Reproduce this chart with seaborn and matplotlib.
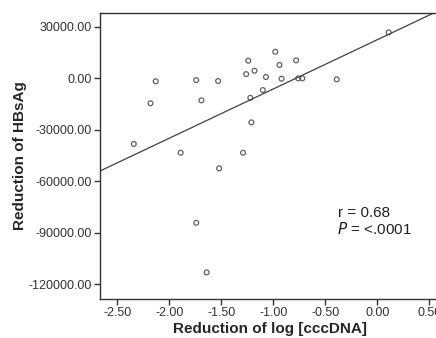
import matplotlib
matplotlib.use("Agg")
import matplotlib.pyplot as plt
import pandas as pd
import seaborn as sns

# Values
ccc_reduction = [-2.34, -2.18, -2.13, -1.89, -1.74, -1.74, -1.69, -1.64, -1.53, -1.52,
                 -1.29, -1.26, -1.24, -1.22, -1.21, -1.18, -1.10, -1.07, -0.98, -0.94,
                 -0.92, -0.78, -0.76, -0.72, -0.39, 0.11]
hbsag_reduction = [-38400, -14700, -1900, -43500, -1200, -84300, -13000, -113200, -1750, -52600,
                   -43500, 2300, 10100, -11500, -25800, 4250, -7000, 600, 15300, 7600,
                   -400, 10300, -200, -200, -750, 26600]
y_ticks = [30000, 0, -30000, -60000, -90000, -120000]
x_ticks = [-2.5, -2.0, -1.5, -1.0, -0.5, 0.0, 0.5]

df = pd.DataFrame({"ccc": ccc_reduction, "hbsag": hbsag_reduction})

sns.set_theme(style="ticks")
plt.rcParams["font.family"] = ["Liberation Sans", "DejaVu Sans"]

fig = plt.figure(figsize=(4.36, 3.38), dpi=100)
ax = fig.add_axes([0.2294, 0.1154, 0.779, 0.846])

# set the window first so the fitted line spans the full axis width
ax.set_xlim(-2.665, 0.6)
ax.set_ylim(-128700, 37860)

sns.regplot(
    data=df, x="ccc", y="hbsag", ax=ax, ci=None, truncate=False,
    scatter_kws={"s": 12, "facecolors": "none", "edgecolors": "#3a3a3a", "linewidths": 0.9},
    line_kws={"color": "#404040", "linewidth": 0.9},
)

ax.set_xlim(-2.665, 0.6)
ax.set_ylim(-128700, 37860)
ax.set_xticks(x_ticks)
ax.set_yticks(y_ticks)
ax.set_xticklabels([f"{v:.2f}" for v in x_ticks], fontsize=9, color="#333333")
ax.set_yticklabels([f"{v:.2f}" for v in y_ticks], fontsize=9, color="#333333")
ax.tick_params(length=4, width=1, color="#333333", pad=2)
for s in ax.spines.values():
    s.set_visible(True)
    s.set_color("#333333")
    s.set_linewidth(1)

ax.set_xlabel("Reduction of log [cccDNA]", fontsize=11, fontweight="bold", labelpad=2)
ax.set_ylabel("Reduction of HBsAg", fontsize=11, fontweight="bold", labelpad=1)

ax.text(-0.375, -81000, "r = 0.68", fontsize=11, color="#222222")
ax.text(-0.385, -91000, "$P$ = <.0001", fontsize=11, color="#222222")

fig.savefig("out.png", dpi=100)
